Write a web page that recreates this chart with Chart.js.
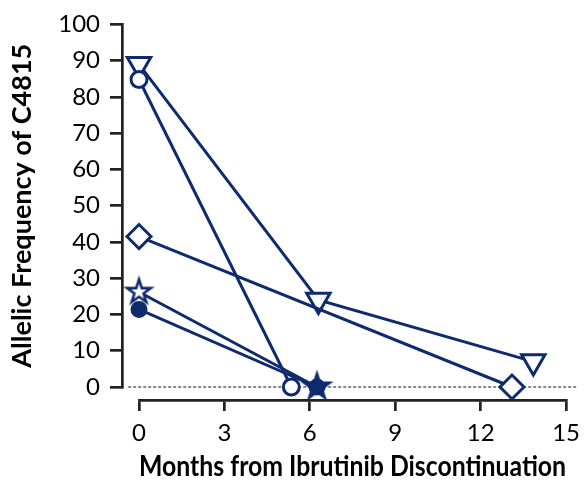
<!DOCTYPE html>
<html>
<head>
<meta charset="utf-8">
<script src="https://cdn.jsdelivr.net/npm/chart.js@4/dist/chart.umd.min.js"></script>
<style>
  html, body { margin: 0; padding: 0; background: #fff; }
  #wrap { width: 588px; height: 481px; position: relative; }
</style>
</head>
<body>
<div id="wrap"><canvas id="c" width="588" height="481"></canvas></div>
<script>
// ---- Data ----
const xTicks = [0, 3, 6, 9, 12, 15];
const yTicks = [0, 10, 20, 30, 40, 50, 60, 70, 80, 90, 100];

const triMonths = [0, 6.3, 13.85];
const triValues = [89, 24, 7];

const openCircleMonths = [0, 5.35];
const openCircleValues = [84.8, 0];

const diamondMonths = [0, 13.1];
const diamondValues = [41.5, 0];

const starMonths = [0, 6.25];
const starValues = [26.2, 0];

const filledCircleMonths = [0, 6.25];
const filledCircleValues = [21.4, 0];

const baselineMonths = [-0.38, 15.42];
const baselineValues = [0, 0];

const xTitle = 'Months from Ibrutinib Discontinuation';
const yTitle = 'Allelic Frequency of C4815';

// ---- Styles ----
const NAVY = '#0f2b6e';
const AXIS = '#222222';
const FONT = 'Lato';

function pts(xs, ys) { return xs.map((x, i) => ({ x: x, y: ys[i] })); }

function starCanvas(r, filled, lw) {
  const s = Math.ceil(2 * r + lw * 2 + 4);
  const c = document.createElement('canvas');
  c.width = s; c.height = s;
  const ctx = c.getContext('2d');
  ctx.translate(s / 2, s / 2);
  ctx.beginPath();
  const inner = r * 0.382;
  for (let i = 0; i < 10; i++) {
    const rr = i % 2 === 0 ? r : inner;
    const a = -Math.PI / 2 + i * Math.PI / 5;
    const px = Math.cos(a) * rr, py = Math.sin(a) * rr;
    if (i === 0) ctx.moveTo(px, py); else ctx.lineTo(px, py);
  }
  ctx.closePath();
  ctx.fillStyle = filled ? NAVY : '#ffffff';
  ctx.fill();
  ctx.lineWidth = lw;
  ctx.lineJoin = 'miter';
  ctx.strokeStyle = NAVY;
  ctx.stroke();
  return c;
}

const openStar = starCanvas(12.5, false, 2.6);
const filledStar = starCanvas(15, true, 1.5);

const common = {
  borderColor: NAVY,
  borderWidth: 3,
  pointBorderColor: NAVY,
  pointBorderWidth: 3,
  pointBackgroundColor: '#ffffff',
  showLine: true,
  tension: 0,
  clip: false,
  fill: false
};

const offsetAxes = {
  id: 'offsetAxes',
  afterLayout(chart) {
    const y = chart.scales.y, x = chart.scales.x;
    y.left -= 17; y.right -= 17;
    x.top += 13; x.bottom += 13;
    y._labelItems = null; y._gridLineItems = null;
    x._labelItems = null; x._gridLineItems = null;
  }
};

new Chart(document.getElementById('c'), {
  type: 'scatter',
  data: {
    datasets: [
      Object.assign({}, common, {
        data: pts(baselineMonths, baselineValues),
        borderColor: '#111111', borderWidth: 1.1, borderDash: [3, 2],
        pointRadius: 0, order: 10
      }),
      Object.assign({}, common, {
        data: pts(triMonths, triValues),
        pointStyle: 'triangle', rotation: 180, pointRadius: 13.5, order: 5
      }),
      Object.assign({}, common, {
        data: pts(openCircleMonths, openCircleValues),
        pointStyle: 'circle', pointRadius: 8, order: 4
      }),
      Object.assign({}, common, {
        data: pts(diamondMonths, diamondValues),
        pointStyle: 'rectRot', pointRadius: 12, order: 3
      }),
      Object.assign({}, common, {
        data: pts(filledCircleMonths, filledCircleValues),
        pointStyle: 'circle', pointRadius: 7, pointBackgroundColor: NAVY, order: 2
      }),
      Object.assign({}, common, {
        data: pts(starMonths, starValues),
        pointStyle: [openStar, filledStar], order: 1
      })
    ]
  },
  options: {
    responsive: false,
    animation: false,
    events: [],
    layout: { padding: { top: 20, right: 20, left: 0, bottom: 0 } },
    plugins: { legend: { display: false }, tooltip: { enabled: false } },
    scales: {
      x: {
        type: 'linear', min: 0, max: 15,
        afterFit(s) { s.height = 94; },
        afterBuildTicks(s) { s.ticks = xTicks.map(v => ({ value: v })); },
        grid: { display: true, drawOnChartArea: false, drawTicks: true, tickLength: 11, color: AXIS, lineWidth: 2.7 },
        border: { display: true, color: AXIS, width: 2.7 },
        ticks: { color: '#000', padding: 8, font: { family: FONT, size: 24 } },
        title: { display: true, text: xTitle, color: '#000', font: { family: FONT, size: 28.5, weight: 'bold' }, padding: { top: 0, bottom: 10 } }
      },
      y: {
        type: 'linear', min: 0, max: 100,
        afterFit(s) { s.width = 139; },
        afterBuildTicks(s) { s.ticks = yTicks.map(v => ({ value: v })); },
        grid: { display: true, drawOnChartArea: false, drawTicks: true, tickLength: 12, color: AXIS, lineWidth: 2.7 },
        border: { display: true, color: AXIS, width: 2.7 },
        ticks: { color: '#000', padding: 10, font: { family: FONT, size: 24 } },
        title: { display: true, text: yTitle, color: '#000', font: { family: FONT, size: 27, weight: 'bold' }, padding: { top: 23, bottom: 0 } }
      }
    }
  },
  plugins: [offsetAxes]
});
</script>
</body>
</html>
